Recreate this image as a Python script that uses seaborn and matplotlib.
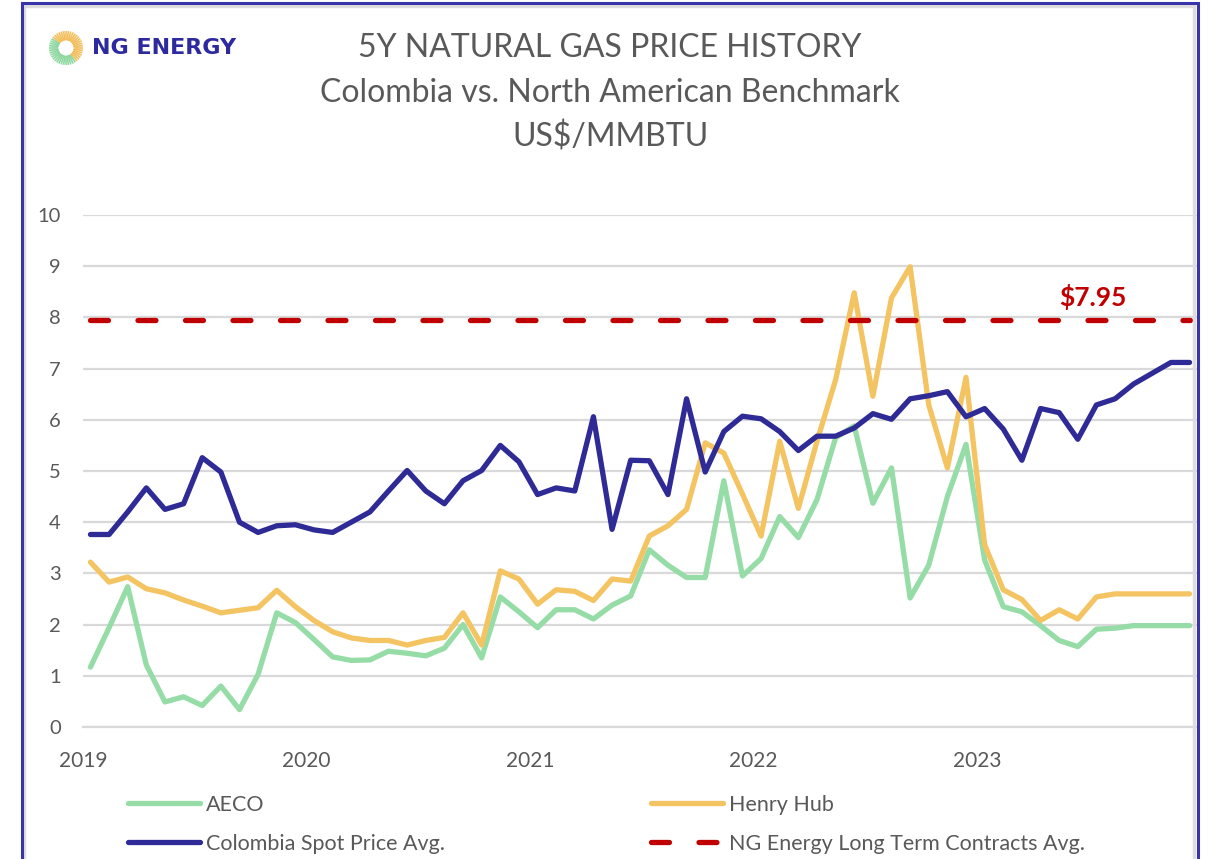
import matplotlib.pyplot as plt
import numpy as np
import pandas as pd
import seaborn as sns
from matplotlib.lines import Line2D
from matplotlib.patches import Rectangle

# monthly prices, Jan 2019 - Dec 2023 (US$/MMBTU)
years = ["2019", "2020", "2021", "2022", "2023"]
aeco = [1.17, 1.94, 2.74, 1.21, 0.49, 0.59, 0.42, 0.80, 0.34, 1.03, 2.23, 2.04,
        1.71, 1.37, 1.30, 1.31, 1.48, 1.44, 1.39, 1.54, 2.00, 1.35, 2.54, 2.25,
        1.94, 2.29, 2.29, 2.11, 2.38, 2.56, 3.46, 3.16, 2.92, 2.92, 4.81, 2.95,
        3.29, 4.11, 3.70, 4.44, 5.65, 5.88, 4.37, 5.06, 2.52, 3.16, 4.50, 5.52,
        3.26, 2.35, 2.25, 1.98, 1.69, 1.57, 1.91, 1.93, 1.98, 1.98, 1.98, 1.98]
henry_hub = [3.22, 2.83, 2.93, 2.70, 2.62, 2.48, 2.36, 2.23, 2.28, 2.33, 2.67, 2.35,
             2.08, 1.86, 1.74, 1.69, 1.69, 1.60, 1.69, 1.75, 2.23, 1.60, 3.05, 2.89,
             2.40, 2.68, 2.65, 2.47, 2.89, 2.85, 3.73, 3.93, 4.25, 5.55, 5.35, 4.55,
             3.73, 5.58, 4.27, 5.58, 6.78, 8.48, 6.46, 8.38, 8.99, 6.29, 5.06, 6.83,
             3.56, 2.68, 2.49, 2.08, 2.29, 2.11, 2.54, 2.60, 2.60, 2.60, 2.60, 2.60]
colombia = [3.76, 3.76, 4.20, 4.67, 4.25, 4.36, 5.26, 4.98, 4.00, 3.80, 3.93, 3.95,
            3.85, 3.80, 4.00, 4.20, 4.61, 5.01, 4.61, 4.36, 4.81, 5.01, 5.50, 5.18,
            4.54, 4.67, 4.61, 6.06, 3.86, 5.21, 5.20, 4.54, 6.41, 4.98, 5.77, 6.07,
            6.02, 5.77, 5.40, 5.68, 5.68, 5.84, 6.12, 6.01, 6.41, 6.47, 6.55, 6.06,
            6.22, 5.82, 5.21, 6.22, 6.14, 5.62, 6.29, 6.41, 6.70, 6.91, 7.12, 7.12]
ng_contract = 7.95

series_names = ["AECO", "Henry Hub", "Colombia Spot Price Avg."]
colors = {"AECO": "#95dca7", "Henry Hub": "#f4c463", "Colombia Spot Price Avg.": "#2e2a96"}
red = "#c00000"
grey_text = "#595959"
grid_col = "#d9d9d9"

months = np.arange(len(aeco)) + 0.4
wide = pd.DataFrame({"month": months, "AECO": aeco, "Henry Hub": henry_hub,
                     "Colombia Spot Price Avg.": colombia})
long = wide.melt(id_vars="month", var_name="series", value_name="price")

sns.set_style("white")
plt.rcParams["font.family"] = ["Lato", "DejaVu Sans"]

fig = plt.figure(figsize=(12.08, 8.59), dpi=100)
ax = fig.add_axes([83 / 1208, 1 - 727 / 859, (1197 - 83) / 1208, (727 - 215) / 859])

sns.lineplot(data=long, x="month", y="price", hue="series", hue_order=series_names,
             palette=colors, linewidth=3.8, legend=False, sort=False, ax=ax)
ax.plot([months[0], months[-1]], [ng_contract, ng_contract], color=red, lw=3.8,
        dashes=(3.4, 5.6), dash_capstyle="round")
ax.text(months[-1] - 5.2, ng_contract + 0.2, f"${ng_contract:.2f}", color=red,
        fontsize=19, fontweight="bold", ha="center", va="bottom")

ax.set_xlim(0, 59.8)
ax.set_ylim(0, 10)
ax.set_yticks(range(0, 11))
ax.set_xticks([0, 12, 24, 36, 48])
ax.set_xticklabels(years)
ax.set_xlabel("")
ax.set_ylabel("")
ax.yaxis.grid(True, color=grid_col, lw=1.6)
ax.set_axisbelow(True)
for side in ["left", "top", "right"]:
    ax.spines[side].set_visible(False)
ax.spines["bottom"].set_color(grid_col)
ax.spines["bottom"].set_linewidth(1.6)
ax.tick_params(axis="y", length=0, pad=16, labelsize=14.5, labelcolor=grey_text)
ax.tick_params(axis="x", length=7, width=1.6, color=grid_col, direction="out",
               pad=10, labelsize=15, labelcolor=grey_text)

# titles
fig.text(0.505, 1 - 48 / 859, "5Y NATURAL GAS PRICE HISTORY", ha="center", va="center",
         fontsize=23, color=grey_text)
fig.text(0.505, 1 - 93 / 859, "Colombia vs. North American Benchmark", ha="center",
         va="center", fontsize=23, color=grey_text)
fig.text(0.505, 1 - 137 / 859, "US$/MMBTU", ha="center", va="center", fontsize=23,
         color=grey_text)

# logo
lax = fig.add_axes([48 / 1208, 1 - 66 / 859, 36 / 1208, 36 / 859])
lax.set_xlim(-1, 1)
lax.set_ylim(-1, 1)
lax.axis("off")
for a in np.linspace(0, 2 * np.pi, 44, endpoint=False):
    c = "#f2bf5e" if (np.cos(a) + np.sin(a)) > -0.2 else "#8ed8a0"
    lax.plot([0.42 * np.cos(a), 0.95 * np.cos(a)], [0.42 * np.sin(a), 0.95 * np.sin(a)],
             color=c, lw=1.2, solid_capstyle="butt")
fig.text(92 / 1208, 1 - 48 / 859, "NG ENERGY", ha="left", va="center", fontsize=16,
         fontweight="bold", color="#2d2aa0", family="DejaVu Sans")

# legend
handles = [
    Line2D([], [], color=colors["AECO"], lw=3.8, solid_capstyle="round"),
    Line2D([], [], color=colors["Colombia Spot Price Avg."], lw=3.8, solid_capstyle="round"),
    Line2D([], [], color=colors["Henry Hub"], lw=3.8, solid_capstyle="round"),
    Line2D([], [], color=red, lw=3.8, dashes=(3.4, 5.6), dash_capstyle="round"),
]
labels = ["AECO", "Colombia Spot Price Avg.", "Henry Hub", "NG Energy Long Term Contracts Avg."]
fig.legend(handles, labels, ncol=2, loc="upper left",
           bbox_to_anchor=(128 / 1208, 1 - 795 / 859), frameon=False, fontsize=15.5,
           handlelength=3.35, handletextpad=0.25, columnspacing=9.6, labelspacing=0.87,
           borderpad=0, borderaxespad=0, labelcolor=grey_text)

# frame
fig.patches.append(Rectangle((24 / 1208, -0.05), (1194 - 24) / 1208, 1.05 - 6 / 859,
                             transform=fig.transFigure, fill=False, edgecolor="#dddddd",
                             lw=2.5))
fig.patches.append(Rectangle((22 / 1208, -0.05), (1198 - 22) / 1208, 1.05 - 3 / 859,
                             transform=fig.transFigure, fill=False, edgecolor="#3a34aa",
                             lw=2.2))

fig.savefig("out.png", dpi=100, facecolor="white")
